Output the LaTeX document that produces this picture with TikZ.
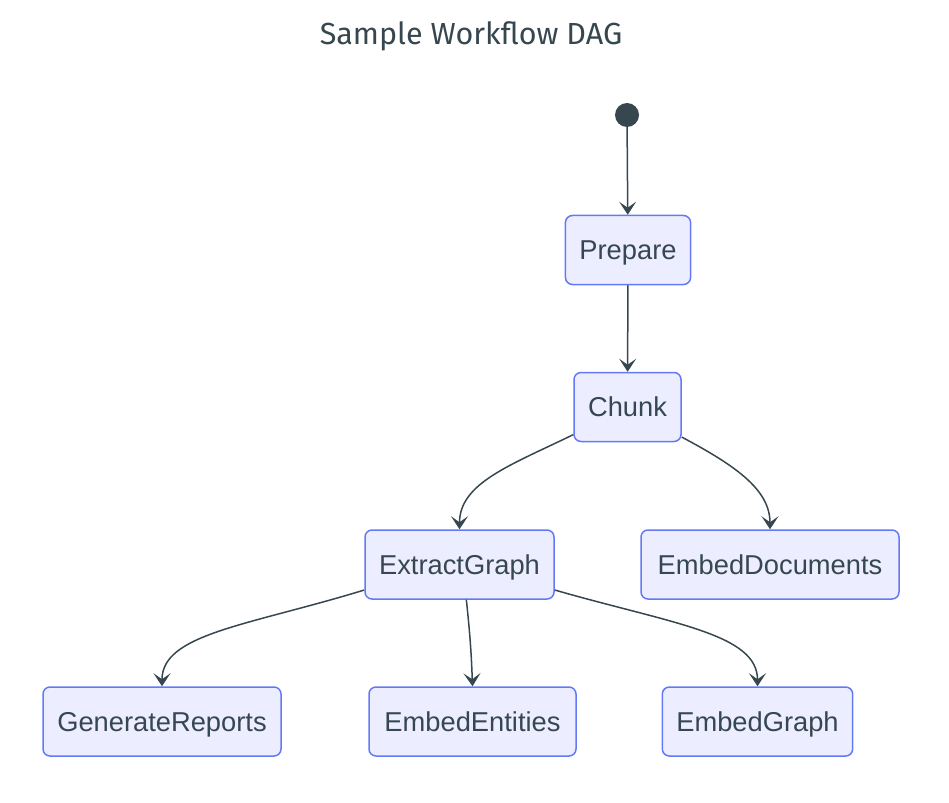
\documentclass[tikz,border=0pt]{standalone}
\usepackage{fontspec}
\setmainfont{Liberation Sans}
\newfontfamily\titlefont{Fira Sans}
\usetikzlibrary{arrows.meta}
\definecolor{nodefill}{HTML}{ECEEFF}
\definecolor{nodeline}{HTML}{6479F5}
\definecolor{ink}{HTML}{37474F}
\tikzset{
  task/.style={draw=nodeline, fill=nodefill, line width=1.5pt, rounded corners=7pt,
    minimum height=69pt, inner xsep=14pt, text height=19.6pt, text depth=0pt,
    text=ink, font=\fontsize{27.3}{30}\selectfont},
  flow/.style={draw=ink, line width=1.5pt, -{Stealth[length=13pt,width=17pt,inset=6pt]}}
}
\begin{document}
\begin{tikzpicture}[x=1pt,y=-1pt]
    \useasboundingbox (0,0) rectangle (949,802);
    \node[text=ink, font=\titlefont\fontsize{30.5}{34}\selectfont] (title) at (471,36) {Sample Workflow DAG};
    \node[circle, fill=ink, minimum size=24pt, inner sep=0pt] (start) at (627,115) {};
    \node[task, minimum width=124pt] (prepare) at (628,250) {Prepare};
    \node[task, minimum width=107pt] (chunk) at (627.5,407) {Chunk};
    \node[task, minimum width=189pt] (extract) at (459.5,564.5) {ExtractGraph};
    \node[task, minimum width=258pt] (embeddocs) at (770,564.5) {EmbedDocuments};
    \node[task, minimum width=238pt] (reports) at (162,721.5) {GenerateReports};
    \node[task, minimum width=207pt] (entities) at (472.5,721.5) {EmbedEntities};
    \node[task, minimum width=189pt] (embedgraph) at (757.5,721.5) {EmbedGraph};
    \draw[flow] (start) -- (prepare);
    \draw[flow] (prepare) -- (chunk);
    \draw[flow] (chunk.207) to[out=206,in=90,out looseness=1.2,in looseness=0.8] (extract.north);
    \draw[flow] (chunk.331) to[out=-28,in=90,out looseness=1.2,in looseness=0.8] (embeddocs.north);
    \draw[flow] (extract.195) to[out=197,in=90,out looseness=1.4,in looseness=0.6] (reports.north);
    \draw[flow] (extract.281) to[out=-84,in=92] (entities.north);
    \draw[flow] (extract.345) to[out=-16,in=90,out looseness=1.4,in looseness=0.6] (embedgraph.north);
\end{tikzpicture}
\end{document}
